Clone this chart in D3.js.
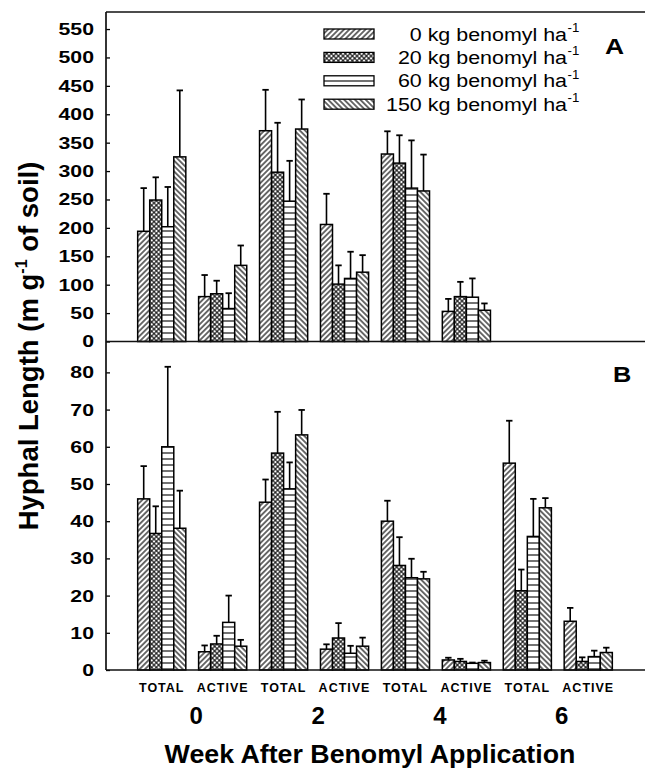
<!DOCTYPE html>
<html>
<head>
<meta charset="utf-8">
<script src="https://cdn.jsdelivr.net/npm/d3@7"></script>
<style>
  body { margin: 0; background: #fff; }
  svg { display: block; }
  text { font-family: "Liberation Sans", Arial, sans-serif; fill: #000; }
</style>
</head>
<body>
<div id="chart"></div>
<script>
const weeks = ["0", "2", "4", "6"];
const measures = ["TOTAL", "ACTIVE"];
const rates = ["0", "20", "60", "150"];
const ticksA = [0, 50, 100, 150, 200, 250, 300, 350, 400, 450, 500, 550];
const ticksB = [0, 10, 20, 30, 40, 50, 60, 70, 80];

// one row per bar group (week 0 total, week 0 active, week 2 total ...), one value per rate
// panel A: no data for week 6
const meanA = [
  [194, 249, 202, 325],
  [79, 84, 58, 134],
  [371, 298, 247, 374],
  [206, 101, 111, 122],
  [330, 314, 270, 265],
  [53, 79, 78, 55],
  null,
  null
];
const errA = [
  [76, 40, 70, 117],
  [38, 23, 27, 35],
  [72, 87, 71, 52],
  [54, 33, 47, 30],
  [40, 49, 84, 64],
  [22, 26, 33, 12],
  null,
  null
];
const meanB = [
  [46.0, 36.7, 60.0, 38.1],
  [4.9, 7.0, 12.8, 6.4],
  [45.1, 58.3, 48.7, 63.2],
  [5.6, 8.6, 4.5, 6.4],
  [40.0, 28.1, 24.8, 24.5],
  [2.7, 2.3, 1.8, 2.0],
  [55.6, 21.3, 35.9, 43.6],
  [13.1, 2.3, 3.6, 4.7]
];
const errB = [
  [8.8, 7.3, 21.5, 10.1],
  [1.7, 2.2, 7.2, 1.7],
  [6.1, 11.1, 7.1, 6.7],
  [1.3, 4.0, 2.0, 2.3],
  [5.5, 7.6, 5.1, 1.9],
  [0.6, 0.7, 0.2, 0.5],
  [11.4, 5.7, 10.1, 2.6],
  [3.6, 1.1, 1.6, 1.3]
];

const W = 647, H = 769;
const LEFT = 106, RIGHT = 645, TOP = 12, MID = 341.5, BOTTOM = 670;

const svg = d3.select("#chart").append("svg")
  .attr("width", W).attr("height", H);

// stretch text horizontally (the original lettering is wider than the fonts we have)
function stretch(sel, f) {
  sel.each(function () {
    const len = this.getComputedTextLength();
    d3.select(this).attr("textLength", len * f).attr("lengthAdjust", "spacingAndGlyphs");
  });
}

/** fill patterns, one per rate */
const defs = svg.append("defs");
function hatch(id, size, angle, lines, sw) {
  const p = defs.append("pattern").attr("id", id)
    .attr("patternUnits", "userSpaceOnUse")
    .attr("width", size).attr("height", size)
    .attr("patternTransform", `rotate(${angle})`);
  p.append("rect").attr("width", size).attr("height", size).attr("fill", "#fff");
  lines.forEach(l => {
    p.append("line")
      .attr("x1", l[0] * size).attr("y1", l[1] * size)
      .attr("x2", l[2] * size).attr("y2", l[3] * size)
      .attr("stroke", "#000").attr("stroke-width", sw);
  });
}
hatch("pat0", 3.8, 45, [[0.5, 0, 0.5, 1]], 1.15);
hatch("pat1", 3.3, 45, [[0.5, 0, 0.5, 1], [0, 0.5, 1, 0.5]], 1.0);
hatch("pat2", 6, 0, [[0, 0.5, 1, 0.5]], 1.1);
hatch("pat3", 3.8, -45, [[0.5, 0, 0.5, 1]], 1.15);
const fillOf = i => `url(#pat${i})`;

/** scales */
const cats = d3.cross(weeks, measures).map(d => d.join("-"));
const x = d3.scaleBand().domain(cats).range([LEFT, RIGHT - 1])
  .paddingInner(0.21).paddingOuter(0.52);
const xSub = d3.scaleBand().domain(rates).range([0, x.bandwidth()]);

const yA = d3.scaleLinear().domain([0, 580]).range([MID, TOP]);
const yB = d3.scaleLinear().domain([0, 88.3]).range([BOTTOM, MID]);

function drawPanel(y, ticks, means, errs) {
  const ax = svg.append("g").attr("transform", `translate(${LEFT},0)`)
    .call(d3.axisLeft(y).tickValues(ticks).tickSize(-4).tickPadding(12));
  ax.select(".domain").remove();
  ax.selectAll(".tick line").attr("stroke-width", 1.3);
  ax.selectAll(".tick text")
    .style("font-family", "'Liberation Sans', Arial, sans-serif")
    .style("font-weight", "bold").style("font-size", "17px")
    .call(stretch, 1.25);

  const rows = means.map((m, i) => m ? m.map((v, j) => ({
    cat: cats[i], rate: rates[j], j: j, v: v, e: errs[i][j]
  })) : []).flat();

  const cx = d => x(d.cat) + xSub(d.rate) + xSub.bandwidth() / 2;
  const g = svg.append("g");
  g.selectAll("line.err").data(rows).join("line").attr("class", "err")
    .attr("x1", cx).attr("x2", cx)
    .attr("y1", d => y(d.v)).attr("y2", d => y(d.v + d.e))
    .attr("stroke", "#000").attr("stroke-width", 1.6);
  g.selectAll("line.cap").data(rows).join("line").attr("class", "cap")
    .attr("x1", d => cx(d) - 3.2).attr("x2", d => cx(d) + 3.2)
    .attr("y1", d => y(d.v + d.e)).attr("y2", d => y(d.v + d.e))
    .attr("stroke", "#000").attr("stroke-width", 1.8);
  g.selectAll("rect").data(rows).join("rect")
    .attr("x", d => x(d.cat) + xSub(d.rate))
    .attr("y", d => y(d.v))
    .attr("width", xSub.bandwidth())
    .attr("height", d => y(0) - y(d.v))
    .attr("fill", d => fillOf(d.j))
    .attr("stroke", "#000").attr("stroke-width", 1.5);
}

drawPanel(yA, ticksA, meanA, errA);
drawPanel(yB, ticksB, meanB, errB);

/** frame: left axis, top line, panel divider, bottom line */
const frame = svg.append("g").attr("stroke", "#111").attr("stroke-width", 1.7);
frame.append("line").attr("x1", LEFT).attr("x2", LEFT).attr("y1", TOP).attr("y2", BOTTOM);
[TOP, MID, BOTTOM].forEach(yy => {
  frame.append("line").attr("x1", LEFT).attr("x2", RIGHT).attr("y1", yy).attr("y2", yy);
});

/** panel letters */
svg.append("text").attr("x", 605).attr("y", 54).text("A")
  .style("font-weight", "bold").style("font-size", "22px").call(stretch, 1.2);
svg.append("text").attr("x", 613).attr("y", 382).text("B")
  .style("font-weight", "bold").style("font-size", "22px").call(stretch, 1.15);

/** legend */
const leg = svg.append("g");
rates.forEach((r, i) => {
  const yy = 29 + i * 23.4;
  leg.append("rect").attr("x", 324).attr("y", yy).attr("width", 50).attr("height", 10)
    .attr("fill", fillOf(i)).attr("stroke", "#000").attr("stroke-width", 1.3);
  const t = leg.append("text").attr("y", yy + 11.5).style("font-size", "18px")
    .text(`${r} kg benomyl ha`).call(stretch, 1.19);
  t.attr("x", 567 - +t.attr("textLength"));
  leg.append("text").attr("x", 567.5).attr("y", yy + 3).style("font-size", "12px")
    .text("-1").call(stretch, 1.1);
});

/** x labels */
svg.append("g").selectAll("text").data(cats).join("text")
  .attr("x", d => x(d) + x.bandwidth() / 2).attr("y", 692)
  .attr("text-anchor", "middle")
  .style("font-weight", "bold").style("font-size", "12.5px").style("letter-spacing", "1px")
  .text(d => d.split("-")[1]);

svg.append("g").selectAll("text").data(weeks).join("text")
  .attr("x", w => (x(`${w}-TOTAL`) + x(`${w}-ACTIVE`)) / 2 + x.bandwidth() / 2 + 4)
  .attr("y", 724)
  .attr("text-anchor", "middle")
  .style("font-weight", "bold").style("font-size", "24px")
  .text(w => w);

svg.append("text").attr("x", 370).attr("y", 763).attr("text-anchor", "middle")
  .style("font-weight", "bold").style("font-size", "25px")
  .text("Week After Benomyl Application").call(stretch, 1.07);

/** y title */
const yt = svg.append("text")
  .attr("transform", "translate(38,346) rotate(-90)")
  .attr("text-anchor", "middle")
  .style("font-weight", "bold").style("font-size", "27.5px");
yt.append("tspan").text("Hyphal Length (m g");
yt.append("tspan").attr("dy", -11).style("font-size", "16px").text("-1");
yt.append("tspan").attr("dy", 11).text(" of soil)");
</script>
</body>
</html>
